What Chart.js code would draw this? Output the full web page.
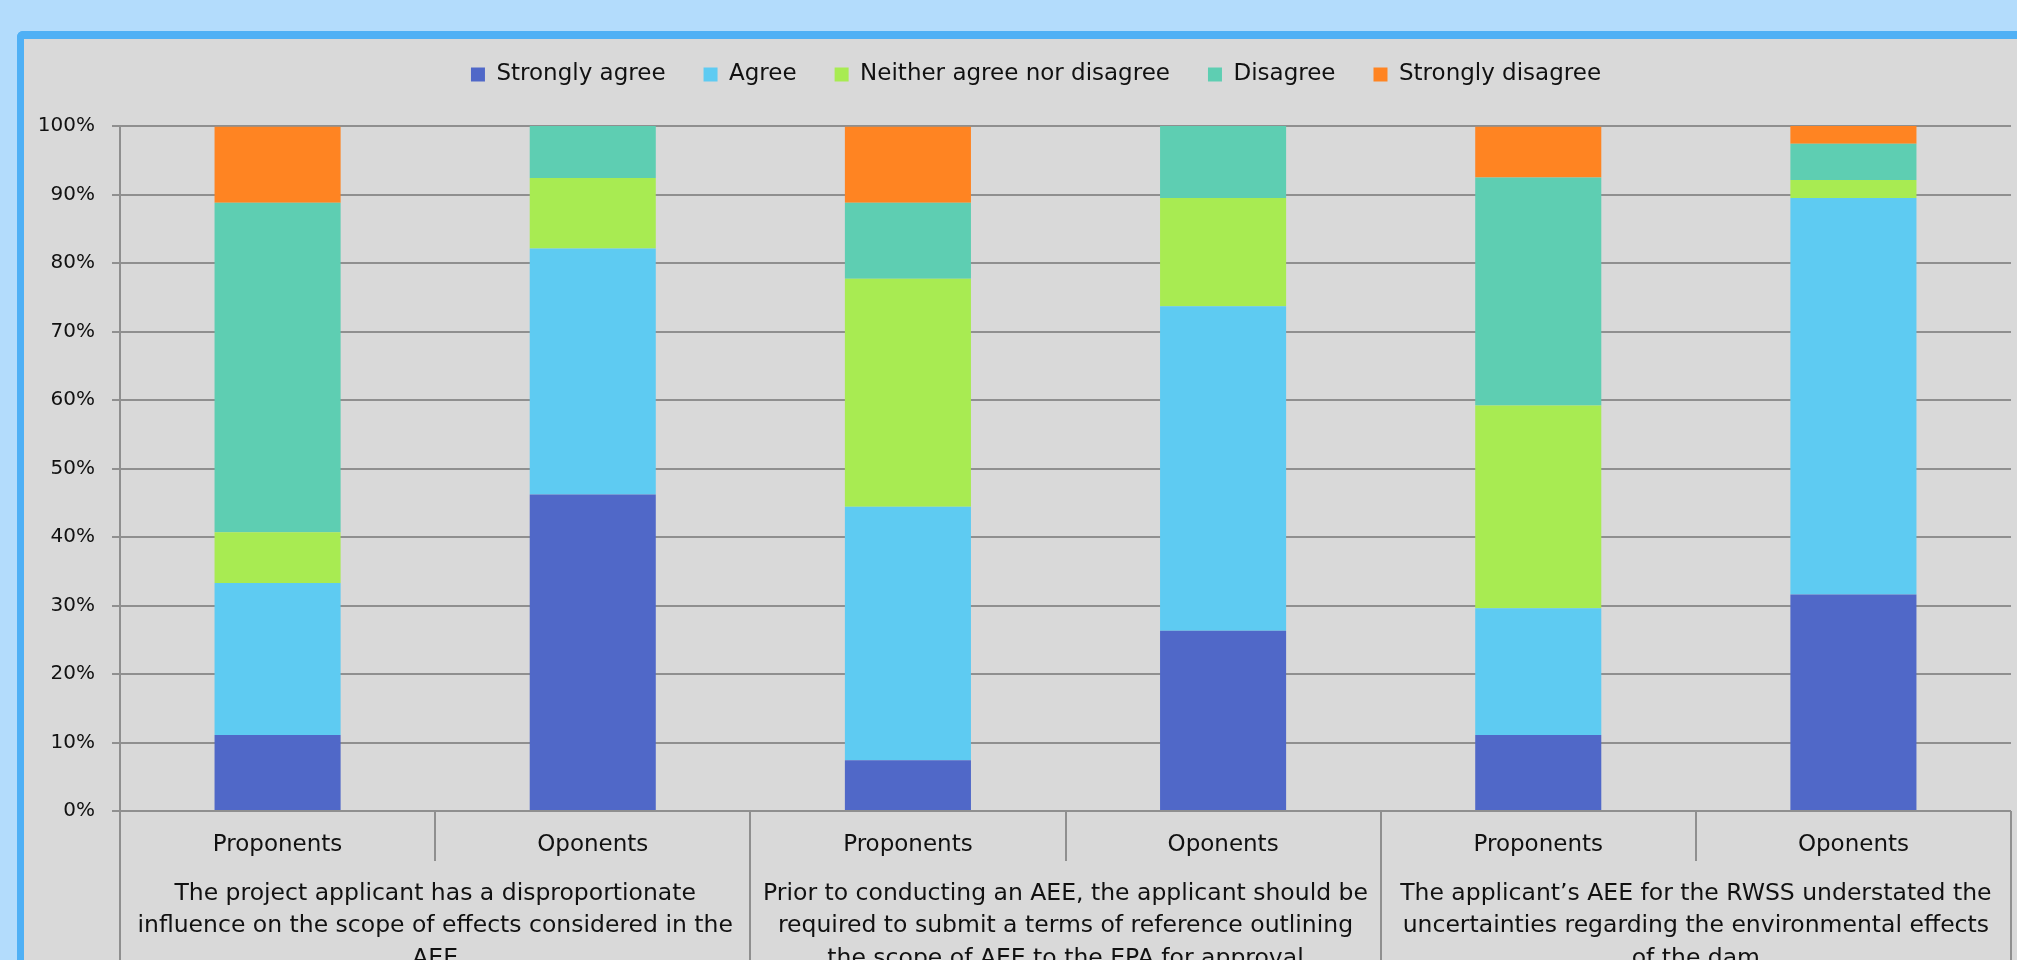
<!DOCTYPE html>
<html>
<head>
<meta charset="utf-8">
<script src="https://cdn.jsdelivr.net/npm/chart.js@4/dist/chart.umd.min.js"></script>
<style>
  html, body { margin: 0; padding: 0; }
  body { width: 2017px; height: 960px; overflow: hidden; background: #b3dcfc; position: relative; }
  .panel {
    position: absolute; left: 17px; top: 31px; right: 0; bottom: -20px;
    border-top: 8px solid #4fb0f5; border-left: 7px solid #4fb0f5;
    border-top-left-radius: 6px; background: #d9d9d9;
  }
  .chart { position: absolute; left: 0; top: 0; width: 1993px; height: 921px; }
</style>
</head>
<body>
<div class="panel">
  <div class="chart"><canvas id="chart"></canvas></div>
</div>
<script>
const subLabels = ['Proponents', 'Oponents', 'Proponents', 'Oponents', 'Proponents', 'Oponents'];
const groupLabels = [
  ['The project applicant has a disproportionate', 'influence on the scope of effects considered in the', 'AEE'],
  ['Prior to conducting an AEE, the applicant should be', 'required to submit a terms of reference outlining', 'the scope of AEE to the EPA for approval'],
  ['The applicant\u2019s AEE for the RWSS understated the', 'uncertainties regarding the environmental effects', 'of the dam']
];
const seriesNames = ['Strongly agree', 'Agree', 'Neither agree nor disagree', 'Disagree', 'Strongly disagree'];
const seriesColors = ['#5068c8', '#5ecbf2', '#a8eb52', '#5eceb2', '#ff8422'];

// percentages, one value per bar
const stronglyAgree = [11.1, 46.2, 7.4, 26.3, 11.1, 31.6];
const agree = [22.2, 35.9, 37.0, 47.4, 18.5, 57.9];
const neither = [7.4, 10.3, 33.3, 15.8, 29.6, 2.6];
const disagree = [48.1, 7.7, 11.1, 10.5, 33.3, 5.3];
const stronglyDisagree = [11.1, 0, 11.1, 0, 7.4, 2.6];

const yTicks = [0, 10, 20, 30, 40, 50, 60, 70, 80, 90, 100];

const seriesValues = [stronglyAgree, agree, neither, disagree, stronglyDisagree];
const font = 'DejaVu Sans';
const lineColor = '#8f8f8f';

Chart.defaults.color = '#111';
Chart.defaults.font.family = font;

// the left layout padding only recentres the legend; give the y labels that room back
const yLabelRoom = {
  id: 'yLabelRoom',
  afterLayout: (c) => { c.scales.y.left = 0; }
};

const chart = new Chart(document.getElementById('chart'), {
  type: 'bar',
  data: {
    labels: subLabels,
    datasets: seriesNames.map((name, i) => ({
      label: name,
      data: seriesValues[i],
      backgroundColor: seriesColors[i],
      borderWidth: 0,
      categoryPercentage: 1,
      barPercentage: 0.4,
      xAxisID: 'x',
      yAxisID: 'y'
    }))
  },
  plugins: [yLabelRoom],
  options: {
    responsive: true,
    maintainAspectRatio: false,
    animation: false,
    layout: { padding: { top: -14, right: 6, left: 37, bottom: 0 } },
    plugins: {
      tooltip: { enabled: false },
      legend: {
        position: 'top',
        labels: {
          boxWidth: 14,
          boxHeight: 14,
          padding: 38,
          font: { size: 23 }
        }
      },
      // empty subtitle used as a spacer between legend and plot
      subtitle: {
        display: true,
        text: '',
        position: 'top',
        weight: 500,
        font: { size: 10, lineHeight: 1 },
        padding: { top: 10, bottom: 10 }
      }
    },
    scales: {
      x: {
        type: 'category',
        position: 'bottom',
        stacked: true,
        weight: 0,
        offset: true,
        border: { display: false },
        grid: {
          offset: true,
          drawOnChartArea: false,
          drawTicks: true,
          tickLength: 50,
          color: lineColor,
          lineWidth: 2
        },
        ticks: {
          autoSkip: false,
          maxRotation: 0,
          minRotation: 0,
          padding: -30,
          font: { size: 23 }
        },
        afterFit: (scale) => { scale.height = 50; }
      },
      x2: {
        type: 'category',
        position: 'bottom',
        labels: groupLabels,
        weight: 1,
        offset: true,
        border: { display: false },
        grid: {
          offset: true,
          drawOnChartArea: false,
          drawTicks: true,
          tickLength: 150,
          color: lineColor,
          lineWidth: 2
        },
        ticks: {
          autoSkip: false,
          maxRotation: 0,
          minRotation: 0,
          padding: -134,
          font: { size: 23.5, lineHeight: 1.4 }
        },
        afterFit: (scale) => { scale.height = 99; }
      },
      y: {
        stacked: true,
        min: 0,
        max: 100,
        border: { display: true, color: lineColor, width: 2 },
        grid: {
          color: lineColor,
          lineWidth: 2,
          drawTicks: true,
          tickLength: 8
        },
        afterBuildTicks: (scale) => { scale.ticks = yTicks.map(v => ({ value: v })); },
        ticks: {
          padding: 17,
          font: { size: 20 },
          callback: (v) => v + '%'
        },
        afterFit: (scale) => { scale.width = 59; }
      }
    }
  }
});
</script>
</body>
</html>
